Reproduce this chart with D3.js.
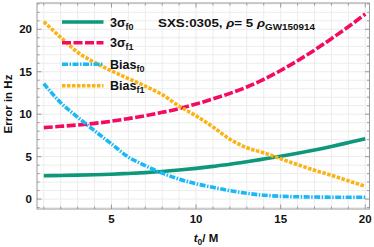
<!DOCTYPE html>
<html><head><meta charset="utf-8">
<script src="https://cdn.jsdelivr.net/npm/d3@7"></script>
<style>
html,body{margin:0;padding:0;background:#fff;}
svg{display:block;font-family:"Liberation Sans",Arial,sans-serif;}
</style></head>
<body><svg id="c" width="374" height="247"></svg>
<script>
const t0 = [1,2,3,4,5,6,7,8,9,10,11,12,13,14,15,16,17,18,19,20];
const sigmaF0 = [2.75,2.78,2.82,2.87,2.93,3.02,3.12,3.25,3.42,3.62,3.85,4.1,4.4,4.72,5.05,5.4,5.78,6.2,6.65,7.1];
const sigmaF1 = [8.42,8.57,8.73,8.92,9.17,9.48,9.82,10.22,10.66,11.2,11.8,12.45,13.2,14.1,15.15,16.3,17.55,18.9,20.3,21.8];
const biasF0 = [13.6,11.35,9.65,8.05,6.5,4.95,3.95,3.05,2.35,1.8,1.38,1.0,0.68,0.45,0.33,0.27,0.24,0.22,0.22,0.22];
const biasF1 = [20.9,19.05,17.3,16.1,15.1,14.2,13.3,12.3,10.95,9.8,8.5,7.05,6.05,5.45,4.75,4.05,3.4,2.8,2.15,1.5];
const xTicks = [5,10,15,20];
const yTicks = [0,5,10,15,20];

const svg = d3.select("#c");
const L=37,R=369.5,T=3,B=209;
const x = d3.scaleLinear().domain([0.6,20.25]).range([L,R]);
const y = d3.scaleLinear().domain([-1.17,23.1]).range([B,T]);

// grid
const g = svg.append("g");
g.selectAll(".gx").data(d3.range(1,21)).enter().append("line")
 .attr("x1",d=>x(d)).attr("x2",d=>x(d)).attr("y1",T).attr("y2",B)
 .attr("stroke","#ececec").attr("stroke-width",1);
g.selectAll(".gy").data(d3.range(-1,24)).enter().append("line")
 .attr("y1",d=>y(d)).attr("y2",d=>y(d)).attr("x1",L).attr("x2",R)
 .attr("stroke","#ececec").attr("stroke-width",1);

// series
const series = [
 {name:"σ",sub:"f0",pre:"3",vals:sigmaF0,color:"#0e987b",dash:null},
 {name:"σ",sub:"f1",pre:"3",vals:sigmaF1,color:"#f50a62",dash:"9,2.5"},
 {name:"Bias",sub:"f0",pre:"",vals:biasF0,color:"#1ab8f5",dash:"6,1.5,1.5,1.5"},
 {name:"Bias",sub:"f1",pre:"",vals:biasF1,color:"#fbb313",dash:"3.5,1.5"}
];
const line = d3.line().x(d=>x(d[0])).y(d=>y(d[1])).curve(d3.curveMonotoneX);
series.forEach(s=>{
 svg.append("path").datum(t0.map((t,i)=>[t,s.vals[i]]))
  .attr("d",line).attr("fill","none").attr("stroke",s.color)
  .attr("stroke-width",3.6).attr("stroke-dasharray",s.dash);
});

// frame
svg.append("rect").attr("x",L).attr("y",T).attr("width",R-L).attr("height",B-T)
 .attr("fill","none").attr("stroke","#9a9a9a").attr("stroke-width",1);

// ticks
const tk = svg.append("g").attr("stroke","#9a9a9a").attr("stroke-width",1);
d3.range(1,21).forEach(v=>{
 const len = xTicks.includes(v)?4.5:2.5;
 tk.append("line").attr("x1",x(v)).attr("x2",x(v)).attr("y1",B).attr("y2",B-len);
 tk.append("line").attr("x1",x(v)).attr("x2",x(v)).attr("y1",T).attr("y2",T+len);
});
d3.range(-1,24).forEach(v=>{
 const len = yTicks.includes(v)?4.5:2.5;
 tk.append("line").attr("y1",y(v)).attr("y2",y(v)).attr("x1",L).attr("x2",L+len);
 tk.append("line").attr("y1",y(v)).attr("y2",y(v)).attr("x1",R).attr("x2",R-len);
});

// tick labels
svg.selectAll(".xl").data(xTicks).enter().append("text")
 .attr("x",d=>x(d)).attr("y",222.5).attr("text-anchor","middle")
 .attr("font-size",11.5).attr("font-weight","bold").attr("fill","#111").text(d=>d);
svg.selectAll(".yl").data(yTicks).enter().append("text")
 .attr("x",32).attr("y",d=>y(d)+4).attr("text-anchor","end")
 .attr("font-size",11.5).attr("font-weight","bold").attr("fill","#111").text(d=>d);

// axis labels
const xl = svg.append("text").attr("x",206).attr("y",242).attr("text-anchor","middle")
 .attr("font-size",11.5).attr("font-weight","bold").attr("fill","#111");
xl.append("tspan").attr("font-style","italic").text("t");
xl.append("tspan").attr("font-size",8.5).attr("dy",2.5).text("0");
xl.append("tspan").attr("dy",-2.5).text("/ M");
svg.append("text").attr("transform","translate(12,104) rotate(-90)")
 .attr("text-anchor","middle").attr("font-size",11.5).attr("font-weight","bold")
 .attr("fill","#111").text("Error in Hz");

// legend
const ly = [22,42.7,64.3,85.7];
series.forEach((s,i)=>{
 svg.append("line").attr("x1",62).attr("x2",103.5).attr("y1",ly[i]).attr("y2",ly[i])
  .attr("stroke",s.color).attr("stroke-width",3.6).attr("stroke-dasharray",s.dash);
 const t = svg.append("text").attr("x",110).attr("y",ly[i]+4.5)
  .attr("font-size",12.5).attr("font-weight","bold").attr("fill","#111");
 if(s.pre) t.append("tspan").text(s.pre);
 t.append("tspan").text(s.name);
 t.append("tspan").attr("font-size",9).attr("dy",3).text(s.sub);
});

// title annotation
const tt = svg.append("text").attr("x",158).attr("y",27)
 .attr("font-size",11.5).attr("font-weight","bold").attr("fill","#111")
 .attr("textLength",157).attr("lengthAdjust","spacingAndGlyphs");
tt.append("tspan").text("SXS:0305, ");
tt.append("tspan").attr("font-style","italic").text("ρ");
tt.append("tspan").text("= 5 ");
tt.append("tspan").attr("font-style","italic").text("ρ");
tt.append("tspan").attr("font-size",8.5).attr("dy",3).text("GW150914");
</script></body></html>
